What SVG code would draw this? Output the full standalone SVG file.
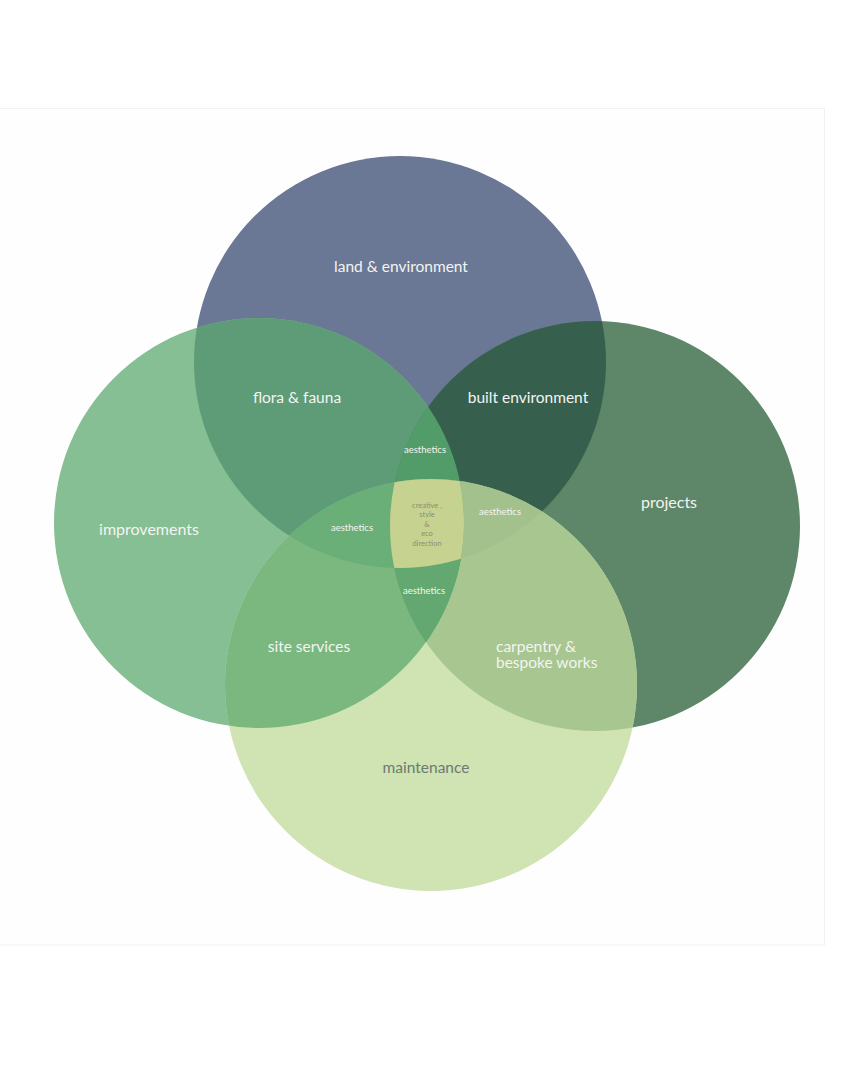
<svg xmlns="http://www.w3.org/2000/svg" width="855" height="1080" viewBox="0 0 855 1080">
<style>
.lbl{font-family:Lato,"Open Sans","Liberation Sans",sans-serif;fill:#f4f4f0;font-weight:400}
.big{font-size:15.5px}
.sm{font-size:9.5px}
.ctr{font-size:7.5px;fill:#8c8f78}
.dk{fill:#6d7a72}
</style>
<defs>
<clipPath id="cT"><circle cx="400" cy="362" r="206"/></clipPath>
<clipPath id="cL"><circle cx="259" cy="523" r="205"/></clipPath>
<clipPath id="cR"><circle cx="595" cy="526" r="205"/></clipPath>
<clipPath id="cB"><circle cx="431" cy="685" r="206"/></clipPath>
</defs>
<rect x="0" y="0" width="855" height="1080" fill="#ffffff"/>
<rect x="-1" y="108.5" width="825.5" height="836.5" fill="#fefefe" stroke="#f1f1f1" stroke-width="1"/>
<g id="circles">
<circle id="top" cx="400" cy="362" r="206" fill="#6a7795"/>
<circle id="left" cx="259" cy="523" r="205" fill="#85bf93"/>
<circle id="right" cx="595" cy="526" r="205" fill="#5d8768"/>
<circle id="bottom" cx="431" cy="685" r="206" fill="#cfe3b3"/>
</g>
<g id="pairs">
<g clip-path="url(#cT)"><circle cx="259" cy="523" r="205" fill="#5e9c77"/></g>
<g clip-path="url(#cT)"><circle cx="595" cy="526" r="205" fill="#36604d"/></g>
<g clip-path="url(#cL)"><circle cx="431" cy="685" r="206" fill="#7ab87f"/></g>
<g clip-path="url(#cR)"><circle cx="431" cy="685" r="206" fill="#a8c690"/></g>
<g clip-path="url(#cL)"><circle cx="595" cy="526" r="205" fill="#529c69"/></g>
</g>
<g id="triples">
<g clip-path="url(#cT)"><g clip-path="url(#cL)"><circle cx="595" cy="526" r="205" fill="#529c69"/></g></g>
<g clip-path="url(#cT)"><g clip-path="url(#cL)"><circle cx="431" cy="685" r="206" fill="#6aae78"/></g></g>
<g clip-path="url(#cT)"><g clip-path="url(#cR)"><circle cx="431" cy="685" r="206" fill="#a2c18c"/></g></g>
<g clip-path="url(#cL)"><g clip-path="url(#cR)"><circle cx="431" cy="685" r="206" fill="#62a870"/></g></g>
</g>
<g id="center">
<g clip-path="url(#cT)"><g clip-path="url(#cL)"><g clip-path="url(#cR)"><circle cx="431" cy="685" r="206" fill="#c6d28f"/></g></g></g>
</g>
<g id="labels">
<text class="lbl big" x="401" y="272" text-anchor="middle">land &amp; environment</text>
<text class="lbl big" x="297" y="403" text-anchor="middle">flora &amp; fauna</text>
<text class="lbl big" x="528" y="403" text-anchor="middle">built environment</text>
<text class="lbl big" x="149" y="535" text-anchor="middle" style="font-size:16px">improvements</text>
<text class="lbl big" x="669" y="508" text-anchor="middle" style="font-size:16px">projects</text>
<text class="lbl big" x="309" y="652" text-anchor="middle">site services</text>
<text class="lbl big" x="496" y="652">carpentry &amp;</text>
<text class="lbl big" x="496" y="668">bespoke works</text>
<text class="lbl big dk" x="426" y="773" text-anchor="middle">maintenance</text>
<text class="lbl sm" x="425" y="453" text-anchor="middle">aesthetics</text>
<text class="lbl sm" x="352" y="531" text-anchor="middle">aesthetics</text>
<text class="lbl sm" x="500" y="515" text-anchor="middle">aesthetics</text>
<text class="lbl sm" x="424" y="594" text-anchor="middle">aesthetics</text>
<text class="lbl ctr" x="427" y="508" text-anchor="middle">creative ,</text>
<text class="lbl ctr" x="427" y="517" text-anchor="middle">style</text>
<text class="lbl ctr" x="427" y="527" text-anchor="middle">&amp;</text>
<text class="lbl ctr" x="427" y="536" text-anchor="middle">eco</text>
<text class="lbl ctr" x="427" y="546" text-anchor="middle">direction</text>
</g>
</svg>
